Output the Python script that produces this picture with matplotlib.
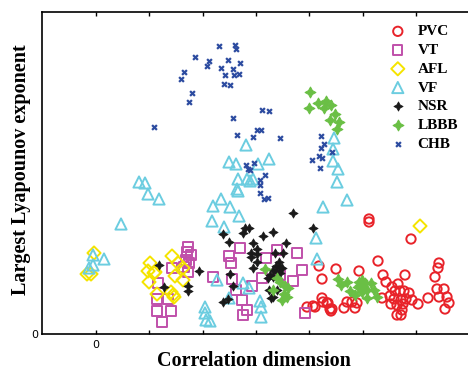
import matplotlib
matplotlib.use("Agg")
import matplotlib.pyplot as plt
import numpy as np

# data (arbitrary units: x relative to the "0" tick, y from 0)
pvc_x = [273,273,315,223,240,226,263,282,287,290,309,343,342,339,341,348,343,351,353,349,332,322,302,296,294,299,304,308,313,298,305,310,316,295,301,307,306,301,305,286,226,227,232,236,235,248,251,256,261,259,211,217,219,231,234]
pvc_y = [115,112,95,68,65,55,63,73,59,52,59,71,66,57,45,45,37,37,31,25,36,30,50,47,38,43,43,43,41,35,34,35,34,30,29,30,24,19,19,36,36,32,31,25,23,26,32,32,31,26,27,28,27,31,25]

vt_x = [92,91,95,90,93,88,92,76,62,61,72,61,75,66,144,133,135,170,181,201,206,184,166,197,156,140,117,136,146,151,147,209]
vt_y = [87,82,79,74,71,67,62,66,51,35,35,23,23,12,86,78,71,76,84,81,64,59,56,53,48,44,57,55,34,24,19,21]

afl_x = [-2,-9,-5,54,52,58,59,53,61,76,82,79,87,87,75,77,78,324]
afl_y = [81,60,60,71,63,61,62,52,40,78,71,58,54,66,42,39,37,108]

vf_x = [-3,8,-3,-7,43,49,52,63,25,150,133,140,162,173,142,151,157,154,141,142,125,117,134,143,116,128,227,220,221,121,147,153,133,164,165,165,109,109,110,114,238,237,237,242,241,251]
vf_y = [79,75,69,66,152,151,140,135,110,189,172,170,170,175,155,155,155,153,145,143,135,128,127,118,113,107,127,96,75,54,51,46,36,33,27,17,27,21,14,13,196,185,173,165,152,134]

nsr_x = [197,217,149,153,127,147,167,177,133,157,190,161,155,161,155,179,187,161,157,183,180,184,103,177,181,174,172,177,184,186,134,137,173,181,175,177,92,92,127,132,63,68]
nsr_y = [121,106,106,106,100,101,98,102,92,91,91,85,81,80,77,81,81,72,66,72,68,67,63,64,62,59,56,57,61,66,60,48,44,44,36,37,48,43,32,35,69,47]

lbbb_x = [214,222,230,235,228,213,239,234,243,241,242,245,251,254,259,263,266,269,275,262,267,271,266,278,271,281,264,169,181,189,192,177,191,186,188,184]
lbbb_y = [242,231,233,229,226,226,220,214,212,205,55,49,52,43,39,52,54,51,51,47,47,44,42,44,36,37,49,65,56,48,46,44,37,34,40,52]

chb_x = [58,123,139,140,99,113,111,132,144,125,137,88,85,129,138,143,128,134,96,93,137,141,157,161,165,150,152,154,158,169,164,164,164,168,172,225,228,225,236,223,226,216,224,166,173,184]
chb_y = [207,288,289,285,277,273,268,274,271,266,265,262,255,259,259,260,250,249,241,232,216,199,197,204,204,169,165,164,171,159,154,149,141,135,136,198,190,186,182,178,176,174,166,224,223,196]

x_ticks = [0, 53.3, 106.6, 160, 213.3, 266.6, 320]

W, H = 468, 372
fig = plt.figure(figsize=(W / 100, H / 100), dpi=100)
ax = fig.add_axes([42 / W, 38 / H, 1 - 42 / W, 322 / H])
ax.set_xlim(-54, 372)
ax.set_ylim(0, 322)

ax.scatter(pvc_x, pvc_y, s=45, facecolors='none', edgecolors='#e8232a', linewidths=1.4, marker='o', label='PVC', zorder=3)
ax.scatter(vt_x, vt_y, s=45, facecolors='none', edgecolors='#c050aa', linewidths=1.4, marker='s', label='VT', zorder=3)
ax.scatter(afl_x, afl_y, s=45, facecolors='none', edgecolors='#f5e400', linewidths=1.4, marker='D', label='AFL', zorder=3)
ax.scatter(vf_x, vf_y, s=65, facecolors='none', edgecolors='#6ccde0', linewidths=1.4, marker='^', label='VF', zorder=3)
ax.scatter(nsr_x, nsr_y, s=45, c='#1a1a1a', marker=(4, 1, 0), linewidths=0.5, label='NSR', zorder=4)
ax.scatter(lbbb_x, lbbb_y, s=60, c='#6abf45', marker=(4, 1, 0), linewidths=0.8, edgecolors='#6abf45', label='LBBB', zorder=4)
ax.scatter(chb_x, chb_y, s=12, c='#2c4ba0', marker='x', linewidths=1.6, label='CHB', zorder=4)

ax.spines['right'].set_visible(False)
for s in ['left', 'bottom', 'top']:
    ax.spines[s].set_linewidth(1.2)

ax.set_xticks(x_ticks)
ax.set_xticklabels(['0'] + [''] * (len(x_ticks) - 1))
ax.tick_params(axis='x', direction='in', length=3, width=1, top=True, labelsize=8, pad=4)
ax.set_yticks([0])
ax.set_yticklabels(['0'])
ax.tick_params(axis='y', length=0, labelsize=8, pad=3)

serif = ['Liberation Serif', 'DejaVu Serif']
ax.set_xlabel('Correlation dimension', fontsize=14.5, fontweight='bold', family=serif)
ax.set_ylabel('Largest Lyapounov exponent', fontsize=14.5, fontweight='bold', family=serif)
ax.xaxis.set_label_coords((254 - 42) / 426, (334 - 351) / 322)
ax.yaxis.set_label_coords((31 - 42) / 426, (334 - 170) / 322)

leg = ax.legend(loc='upper left', bbox_to_anchor=(381 / W, 1 - 17 / H), bbox_transform=fig.transFigure,
                frameon=False, prop={'family': serif, 'weight': 'bold', 'size': 11},
                handletextpad=0.7, labelspacing=0.33, borderpad=0, handlelength=1.2, scatterpoints=1)

fig.savefig('out.png', dpi=100)
